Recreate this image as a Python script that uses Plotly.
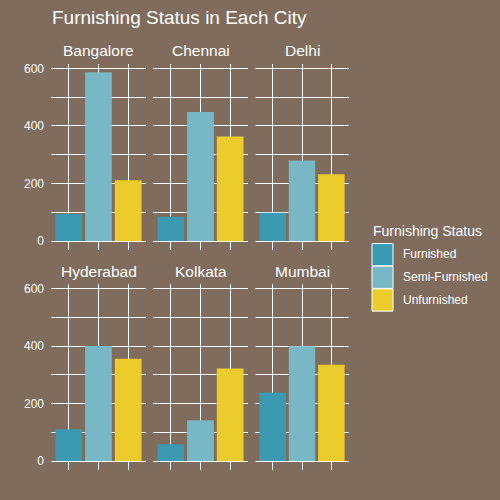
import plotly.graph_objects as go

# ---- data ----
cities = ["Bangalore", "Chennai", "Delhi", "Hyderabad", "Kolkata", "Mumbai"]
statuses = ["Furnished", "Semi-Furnished", "Unfurnished"]
furnished = [94, 84, 98, 111, 59, 239]
semi_furnished = [587, 449, 280, 400, 142, 399]
unfurnished = [211, 363, 232, 356, 322, 335]
y_ticks = [0, 100, 200, 300, 400, 500, 600]
y_tick_labels = ["0", "", "200", "", "400", "", "600"]

# ---- style ----
colors = ["#3B9AB2", "#78B7C5", "#EBCC2A"]
bg = "#806C5C"
W = H = 500
KY = 0.986  # vertical compensation of the capture
FONT = "Liberation Sans, Arial, sans-serif"
col_px = [(51, 146), (153, 248), (255, 349)]
row_px = [(62, 240), (283, 461)]
y_max = max(max(furnished), max(semi_furnished), max(unfurnished)) * 1.05

def px(x):
    return x / W

def py(y):
    return 1 - y / (H * KY)

fig = go.Figure()
annotations = []
for i, city in enumerate(cities):
    r, c = divmod(i, 3)
    n = i + 1
    xa = "x" if n == 1 else f"x{n}"
    ya = "y" if n == 1 else f"y{n}"
    vals = [furnished[i], semi_furnished[i], unfurnished[i]]
    fig.add_trace(go.Bar(x=statuses, y=vals, marker=dict(color=colors, line=dict(width=0)),
                         xaxis=xa, yaxis=ya, showlegend=False, hoverinfo="x+y"))
    x0, x1 = col_px[c]
    y0, y1 = row_px[r]
    xkey = "xaxis" if n == 1 else f"xaxis{n}"
    ykey = "yaxis" if n == 1 else f"yaxis{n}"
    fig.update_layout({
        xkey: dict(domain=[px(x0), px(x1)], anchor=ya, type="category",
                   range=[-0.6, 2.6], showgrid=True, gridcolor="white", gridwidth=1,
                   showticklabels=False, ticks="outside", ticklen=8, tickcolor="white",
                   tickwidth=1, showline=False, zeroline=False, fixedrange=True),
        ykey: dict(domain=[py(y1), py(y0)], anchor=xa, range=[0, y_max],
                   tickvals=y_ticks, ticktext=y_tick_labels,
                   showticklabels=(c == 0), showgrid=True, gridcolor="white", gridwidth=1,
                   zeroline=True, zerolinecolor="white", zerolinewidth=1,
                   ticks="", showline=False, ticklabelstandoff=6,
                   tickfont=dict(size=12, color="white", family=FONT), fixedrange=True),
    })
    annotations.append(dict(text=city, x=px((x0 + x1) / 2), y=py(49 if r == 0 else 271),
                            xref="paper", yref="paper", xanchor="center", yanchor="middle",
                            showarrow=False, font=dict(size=15.5, color="white", family=FONT)))

# legend (drawn manually)
shapes = []
annotations.append(dict(text="Furnishing Status", x=px(371), y=py(230), xref="paper", yref="paper",
                        xanchor="left", yanchor="middle", showarrow=False,
                        font=dict(size=14, color="white", family=FONT)))
for k, s in enumerate(statuses):
    top = 242.5 + 22.8 * k
    shapes.append(dict(type="rect", xref="paper", yref="paper",
                       x0=px(372), x1=px(393), y0=py(top + 22.3), y1=py(top),
                       fillcolor=colors[k], line=dict(color="white", width=1)))
    annotations.append(dict(text=s, x=px(401), y=py(top + 11), xref="paper", yref="paper",
                            xanchor="left", yanchor="middle", showarrow=False,
                            font=dict(size=12, color="white", family=FONT)))

fig.update_layout(
    width=W, height=H, margin=dict(l=0, r=0, t=0, b=0),
    paper_bgcolor=bg, plot_bgcolor=bg, bargap=0.1,
    title=dict(text="Furnishing Status in Each City", x=px(52), xanchor="left",
               y=py(17), yanchor="middle", font=dict(size=19, color="white", family=FONT)),
    annotations=annotations, shapes=shapes,
)

css_fix = (
    "var st=document.createElement('style');"
    "st.innerHTML='html,body{margin:0;padding:0;overflow:hidden;width:500px;height:500px;background:%s}"
    " body>div{display:block;height:500px;line-height:0}';"
    "document.head.appendChild(st);" % bg
)
fig.write_html("out.html", post_script=css_fix, config={"displayModeBar": False})
